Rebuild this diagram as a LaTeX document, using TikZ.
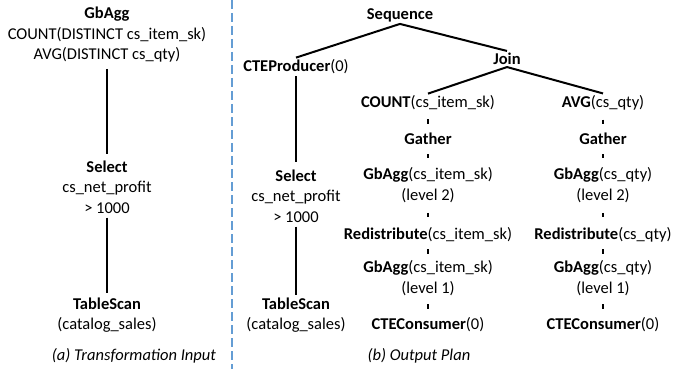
\documentclass[tikz,border=0pt]{standalone}
\usepackage{fontspec}
\setmainfont{Carlito}
\usetikzlibrary{calc}
\definecolor{divblue}{RGB}{100,157,212}
\begin{document}
\begin{tikzpicture}[x=1pt, y=-1pt, font=\fontsize{16.5}{20.5}\selectfont]
	\tikzset{
		op/.style={align=center, inner sep=2pt},
		edge/.style={line width=2pt},
		tick/.style={line width=2.8pt},
		caption/.style={font=\fontsize{16.5}{20.5}\selectfont\itshape}
	}
	\useasboundingbox (0,0) rectangle (673,369);
	
	% (a) transformation input
	\node[op] (gb) at (107,35) {\textbf{GbAgg}\\COUNT(DISTINCT cs\_item\_sk)\\AVG(DISTINCT cs\_qty)};
	\node[op] (sel) at (107,187) {\textbf{Select}\\cs\_net\_profit\\> 1000};
	\node[op] (scan) at (107,315) {\textbf{TableScan}\\(catalog\_sales)};
	\node[caption] (capa) at (134,356) {(a) Transformation Input};
	
	\draw[edge, shorten <=4pt, shorten >=4pt] (gb) -- (sel);
	\draw[edge, shorten <=2pt, shorten >=2pt] (sel) -- (scan);
	
	\draw[divblue, line width=2pt, dash pattern=on 9pt off 4pt] (232,0) -- (232,369);
	
	% (b) output plan
	\node[op] (seq) at (400,15) {\textbf{Sequence}};
	\node[op] (prod) at (296,67) {\textbf{CTEProducer}(0)};
	\node[op] (join) at (507,59) {\textbf{Join}};
	\node[op] (sel2) at (296,196) {\textbf{Select}\\cs\_net\_profit\\> 1000};
	\node[op] (scan2) at (296,315) {\textbf{TableScan}\\(catalog\_sales)};
	\node[caption] (capb) at (419,356) {(b) Output Plan};
	
	\foreach \c/\x/\f/\k in {L/428/COUNT/cs\_item\_sk, R/603/AVG/cs\_qty}
	{
		\node[op] (agg\c) at (\x,103) {\textbf{\f}(\k)};
		\node[op] (gath\c) at (\x,139) {\textbf{Gather}};
		\node[op] (gbtwo\c) at (\x,185) {\textbf{GbAgg}(\k)\\(level 2)};
		\node[op] (redis\c) at (\x,235) {\textbf{Redistribute}(\k)};
		\node[op] (gbone\c) at (\x,278) {\textbf{GbAgg}(\k)\\(level 1)};
		\node[op] (cons\c) at (\x,325) {\textbf{CTEConsumer}(0)};
		
		\draw[edge] (join.south) -- (agg\c.north);
		\foreach \a/\b in {agg/gath, gath/gbtwo, gbtwo/redis, redis/gbone, gbone/cons}
			\draw[tick] ($(\a\c.south)!.5!(\b\c.north)$) ++(0,-2.2) -- ++(0,4.4);
	}
	
	\draw[edge] (seq.south) -- (prod.north);
	\draw[edge] (seq.south) -- (join.north);
	\draw[edge, shorten >=5pt] (prod) -- (sel2);
	\draw[edge, shorten <=2pt] (sel2) -- (scan2);
	
\end{tikzpicture}
\end{document}
